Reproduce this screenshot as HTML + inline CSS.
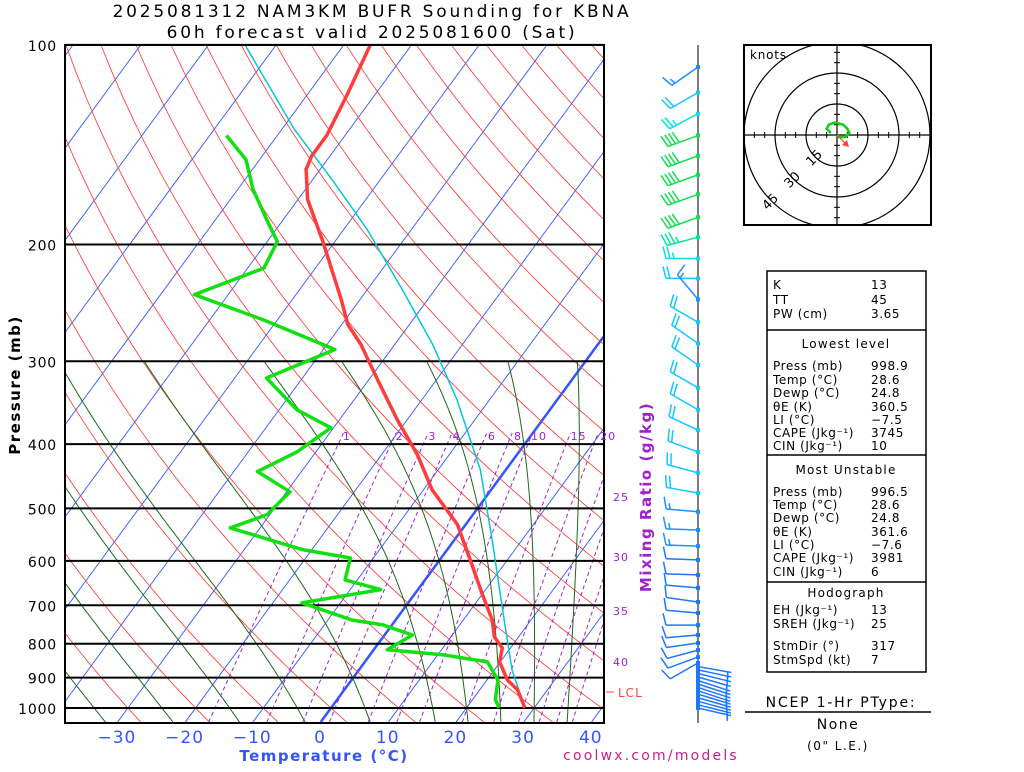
<!DOCTYPE html>
<html><head><meta charset="utf-8">
<style>
html,body{margin:0;padding:0;background:#fff;}
body{width:1024px;height:768px;overflow:hidden;font-family:"DejaVu Sans",sans-serif;}
svg text{font-family:"DejaVu Sans","Liberation Sans",sans-serif;}
</style></head>
<body>
<svg id="c" width="1024" height="768" viewBox="0 0 1024 768" xmlns="http://www.w3.org/2000/svg">
<defs><clipPath id="plotclip"><rect x="65" y="45" width="539" height="678"/></clipPath>
<clipPath id="hodoclip"><rect x="744" y="45" width="187" height="180"/></clipPath></defs>
<text x="372" y="17" font-size="17" letter-spacing="2.8" text-anchor="middle">2025081312 NAM3KM BUFR Sounding for KBNA</text>
<text x="372" y="38" font-size="17" letter-spacing="2.8" text-anchor="middle">60h forecast valid 2025081600 (Sat)</text>
<g id="bg" clip-path="url(#plotclip)"></g>
<g id="grid"></g>
<g id="data" clip-path="url(#plotclip)"></g>
<rect x="65" y="45" width="539" height="678" fill="none" stroke="#000" stroke-width="2"/>
<g id="axes"></g>
<text x="0" y="0" transform="translate(20,385) rotate(-90)" font-size="15" letter-spacing="1.5" font-weight="bold" text-anchor="middle">Pressure (mb)</text>
<text x="324" y="761" font-size="15" letter-spacing="1.5" font-weight="bold" fill="#3355ff" text-anchor="middle">Temperature (°C)</text>
<text x="0" y="0" transform="translate(651,497) rotate(-90)" font-size="15" letter-spacing="1.5" font-weight="bold" fill="#a020d0" text-anchor="middle">Mixing Ratio (g/kg)</text>
<line x1="606" y1="692" x2="614" y2="692" stroke="#ff4040"/>
<text x="618" y="697" font-size="12" letter-spacing="1" fill="#ff4040">LCL</text>
<g id="barbs"></g>
<g id="hodo"></g>
<g id="table"></g>
<text x="841" y="707" font-size="14" letter-spacing="1.8" text-anchor="middle">NCEP 1-Hr PType:</text>
<line x1="745" y1="712" x2="931" y2="712" stroke="#000" stroke-width="1.5"/>
<text x="838" y="729" font-size="14" letter-spacing="1.5" text-anchor="middle">None</text>
<text x="838" y="750" font-size="12" letter-spacing="1.5" text-anchor="middle">(0" L.E.)</text>
<text x="651" y="760" font-size="14" letter-spacing="2.2" fill="#c8208c" text-anchor="middle">coolwx.com/models</text>
</svg>
<script>
const NS="http://www.w3.org/2000/svg";
// ---- data ----
const tempP=[100,119,137,147,154,171,197,242,264,283,320,368,415,469,529,598,675,737,781,812,852,907,939,999];
const tempT=[-66.1,-64.1,-62.7,-62.7,-62.1,-58.6,-52,-42.8,-39.1,-35,-28.7,-21.4,-14.7,-8.7,-1.2,4.5,10.1,14.3,16.4,18.8,19.9,23,25.6,28.6];
const dewP=[137,149,165,184,198,217,238,260,288,318,355,378,411,440,472,511,535,577,594,641,663,694,737,749,776,817,831,852,907,972,999];
const dewT=[-77.5,-72,-67.8,-62.3,-58.5,-57.6,-65,-52,-38.3,-45.3,-37.4,-30.4,-32.8,-36.5,-29.5,-30.4,-34.4,-21.4,-13.4,-11.8,-5.5,-15.7,-6.4,-1.4,4.1,2.0,10.7,18.1,21.6,23.4,24.8];
const parcelP=[999,876,711,558,437,343,283,234,190,160,134,100];
const parcelT=[28.6,22.6,14.7,5.6,-3.8,-14.8,-24.4,-34.8,-46.5,-57,-68.2,-84.6];
const pressTicks=[100,200,300,400,500,600,700,800,900,1000];
const tempTicks=[-30,-20,-10,0,10,20,30,40];
const mixRatios=[1,2,3,4,6,8,10,15,20,25,30,35,40];
const moistStarts=[-35,-25,-15,-5,5,15,20,25,30,35];
const barbP=[108,118,127,137,147,157,168,182,195,210,225,242,262,282,304,329,355,381,411,442,474,506,539,570,598,630,659,692,719,750,776,798,818,838,855,866,876,887,898,909,920,931,942,953,965,977,989,1000];
const barbDir=[235,240,242,250,250,250,250,250,255,270,270,320,300,305,305,300,300,295,290,285,280,275,272,272,272,272,275,278,275,270,265,262,255,250,240,100,102,104,106,108,108,108,108,107,106,105,104,103];
const barbSpd=[15,22,25,40,40,40,40,40,35,25,20,15,20,20,20,20,20,20,20,20,20,15,15,15,12,12,10,10,10,10,10,10,10,10,8,5,5,5,5,5,5,5,5,5,5,5,5,5];
const hodoU=[-3,-5,-4,-1,3,5,6,4,1,0];
const hodoV=[1,3,5,6,5,3,1,-1,-1,0];
// ---- axes functions ----
function Y(p){return 708+288*Math.log(p/1000);}
function X(T,p){return 320+6.77*T+(723-Y(p))*0.734;}
function el(tag,attrs,parent){const e=document.createElementNS(NS,tag);for(const k in attrs)e.setAttribute(k,attrs[k]);parent.appendChild(e);return e;}
function polyPts(ps,ts){return ps.map((p,i)=>X(ts[i],p).toFixed(1)+","+Y(p).toFixed(1)).join(" ");}
const bg=document.getElementById('bg');
for(let T=-110;T<=50;T+=10){
  const l=el('line',{x1:X(T,1050),y1:Y(1050),x2:X(T,100),y2:Y(100),stroke:'#3355ff','stroke-width':T===0?2.5:0.9},bg);
  
  
}
for(let th=-30;th<=220;th+=10){
  const ps=[],ts=[];
  for(let p=1050;p>=100;p-=10){ps.push(p);ts.push((th+273.15)*Math.pow(p/1000,0.286)-273.15);}
  const l=el('polyline',{points:polyPts(ps,ts),fill:'none',stroke:'#ff3030','stroke-width':0.8},bg);
  
  
}
function es(T){return 6.112*Math.exp(17.67*T/(T+243.5));}
function moist(T0){
  const ps=[],ts=[];
  const lapse=(T,p)=>{const e=es(T-273.15);const rs=0.622*e/(p-e);const Rd=287,Cp=1005,Lv=2.5e6;
    return (Rd*T+Lv*rs)/(p*(Cp+Lv*Lv*rs*0.622/(Rd*T*T)));};
  let T=T0+273.15;for(let q=1000;q<1050;q+=5){T+=lapse(T,q)*5;}
  for(let p=1050;p>=300;p-=5){ps.push(p);ts.push(T-273.15);T-=lapse(T,p)*5;}
  return [ps,ts];
}
moistStarts.forEach(t=>{
  const [ps,ts]=moist(t);
  const l=el('polyline',{points:polyPts(ps,ts),fill:'none',stroke:'#1a6a1a','stroke-width':1},bg);
  
  
});
function tdFromW(w,p){const e=w*p/(622+w);const a=Math.log(e/6.112);return 243.5*a/(17.67-a);}
mixRatios.forEach(w=>{
  const ps=[],ts=[];
  for(let p=1050;p>=385;p-=5){ps.push(p);ts.push(tdFromW(w,p));}
  const l=el('polyline',{points:polyPts(ps,ts),fill:'none',stroke:'#a020d0','stroke-width':1,'stroke-dasharray':'4,3'},bg);
  
  
});
const ax=document.getElementById('axes');
const rightLabelY={25:501,30:561,35:615,40:666};
mixRatios.forEach(w=>{
  let x,y;
  if(w<=20){x=X(tdFromW(w,385),385)+3+w*0.35;y=440;}
  else{x=621;y=rightLabelY[w];}
  const t=el('text',{x:x,y:y,'font-size':11,'letter-spacing':1,fill:'#a020d0','text-anchor':'middle'},ax);
  t.textContent=w;
  
  
});
const grid=document.getElementById('grid');
pressTicks.forEach(p=>{
  const l=el('line',{x1:65,y1:Y(p),x2:604,y2:Y(p),stroke:'#000','stroke-width':2},grid);
  
  
  const t=el('text',{x:57,y:Y(p)+6,'font-size':14,'letter-spacing':0.8,'text-anchor':'end'},ax);
  t.textContent=p;
  
  
});
tempTicks.forEach(T=>{
  const t=el('text',{x:320+6.77*T,y:743,'font-size':17,'letter-spacing':1,fill:'#3355ff','text-anchor':'middle'},ax);
  t.textContent=(T<0?'\u2212':'')+Math.abs(T);
  
  
});
const dg=document.getElementById('data');
let pl=el('polyline',{points:polyPts(parcelP,parcelT),fill:'none',stroke:'#00c8d8','stroke-width':1.5},dg);


pl=el('polyline',{points:polyPts(dewP,dewT),fill:'none',stroke:'#10e010','stroke-width':3.5,'stroke-linejoin':'round'},dg);


pl=el('polyline',{points:polyPts(tempP,tempT),fill:'none',stroke:'#ff3c3c','stroke-width':3.5,'stroke-linejoin':'round'},dg);


// barbs
const bgp=document.getElementById('barbs');
const axl=el('line',{x1:698,y1:45,x2:698,y2:723,stroke:'#555','stroke-width':1.5},bgp);


function spdColor(s){if(s<=12)return '#1e78ff';if(s<=17)return '#1e90ff';if(s<=22)return '#10c8ff';if(s<=27)return '#00e0f0';if(s<=37)return '#00e8a0';return '#10e050';}
barbP.forEach((p,i)=>{
  const y=Y(p),d=barbDir[i]*Math.PI/180,s=barbSpd[i];
  const ux=Math.sin(d),uy=-Math.cos(d);
  const L=s<=5?34:32,col=spdColor(s);
  const g=el('g',{stroke:col,'stroke-width':1.5,fill:'none'},bgp);
  
  
  el('line',{x1:698,y1:y,x2:698+ux*L,y2:y+uy*L},g);
  el('rect',{x:696,y:y-2,width:4,height:4,fill:col,stroke:'none'},g);
  const bx=-uy,by=ux;
  let rem=Math.round(s/5)*5,k=0;
  while(rem>=10){const ox=698+ux*(L-k*4),oy=y+uy*(L-k*4);
    el('line',{x1:ox,y1:oy,x2:ox+bx*12+ux*3,y2:oy+by*12+uy*3},g);rem-=10;k++;}
  if(rem>=5){const off=k*4+(k===0?4:0);const ox=698+ux*(L-off),oy=y+uy*(L-off);
    el('line',{x1:ox,y1:oy,x2:ox+bx*6+ux*1.5,y2:oy+by*6+uy*1.5},g);}
});
// hodograph
const hg=document.getElementById('hodo');
const hb=el('rect',{x:744,y:45,width:187,height:180,fill:'none',stroke:'#000','stroke-width':2},hg);


const hc=el('g',{'clip-path':'url(#hodoclip)'},hg);
const cx=837,cy=135,kt=31/15;
[15,30,45].forEach(r=>{const c=el('circle',{cx:cx,cy:cy,r:r*kt,fill:'none',stroke:'#000','stroke-width':1.2},hc);
  
  });
el('line',{x1:744,y1:cy,x2:931,y2:cy,stroke:'#000','stroke-width':1.2},hc);
el('line',{x1:cx,y1:45,x2:cx,y2:225,stroke:'#000','stroke-width':1.2},hc);
for(let v=-45;v<=45;v+=5){if(v===0)continue;const o=v*kt;
  el('line',{x1:cx+o,y1:cy-3,x2:cx+o,y2:cy+3,stroke:'#000'},hc);
  el('line',{x1:cx-3,y1:cy+o,x2:cx+3,y2:cy+o,stroke:'#000'},hc);}
[[15,'15'],[30,'30'],[45,'45']].forEach(([r,s])=>{
  const a=Math.PI*0.75,x=cx+Math.cos(a)*r*kt+2,y=cy+Math.sin(a)*r*kt+4;
  const t=el('text',{x:0,y:0,'font-size':13,transform:`translate(${x},${y}) rotate(-45)`,'text-anchor':'middle'},hc);
  t.textContent=s;
  
  });
const kn=el('text',{x:750,y:59,'font-size':12,'letter-spacing':0.8},hg);kn.textContent='knots';


const hpl=el('polyline',{points:hodoU.map((u,i)=>(cx+u*kt)+','+(cy-hodoV[i]*kt)).join(' '),fill:'none',stroke:'#10d010','stroke-width':2.5},hg);


const sm=el('g',{},hg);


el('line',{x1:cx,y1:cy,x2:cx+8,y2:cy+8,stroke:'#ff4040','stroke-width':1.2},sm);
el('polygon',{points:`${cx+12},${cy+12} ${cx+5},${cy+10} ${cx+10},${cy+5}`,fill:'#ff4040'},sm);
// table
const tg=document.getElementById('table');
const tr=el('rect',{x:767,y:271,width:159,height:401,fill:'none',stroke:'#000','stroke-width':1.5},tg);


[330,455,582].forEach(y=>{el('line',{x1:767,y1:y,x2:926,y2:y,stroke:'#000','stroke-width':1.5},tg);});
const rows=[
 [289,'K','13'],[304,'TT','45'],[318,'PW (cm)','3.65'],
 [348,'Lowest level',null],
 [370,'Press (mb)','998.9'],[384,'Temp (°C)','28.6'],[397,'Dewp (°C)','24.8'],[411,'θE (K)','360.5'],[424,'LI (°C)','\u22127.5'],[437,'CAPE (Jkg\u207B\u00B9)','3745'],[450,'CIN (Jkg\u207B\u00B9)','10'],
 [474,'Most Unstable',null],
 [496,'Press (mb)','996.5'],[509,'Temp (°C)','28.6'],[522,'Dewp (°C)','24.8'],[536,'θE (K)','361.6'],[549,'LI (°C)','\u22127.6'],[562,'CAPE (Jkg\u207B\u00B9)','3981'],[576,'CIN (Jkg\u207B\u00B9)','6'],
 [597,'Hodograph',null],
 [614,'EH (Jkg\u207B\u00B9)','13'],[628,'SREH (Jkg\u207B\u00B9)','25'],[650,'StmDir (°)','317'],[664,'StmSpd (kt)','7']];
rows.forEach(([y,a,b])=>{
  if(b===null){const t=el('text',{x:846,y:y,'font-size':12,'letter-spacing':1.2,'text-anchor':'middle'},tg);t.textContent=a;
    
    return;}
  const t=el('text',{x:773,y:y,'font-size':12,'letter-spacing':0.6},tg);t.textContent=a;
  
  
  const v=el('text',{x:871,y:y,'font-size':12,'letter-spacing':0.6},tg);v.textContent=b;
  
  
});
</script>
</body></html>
